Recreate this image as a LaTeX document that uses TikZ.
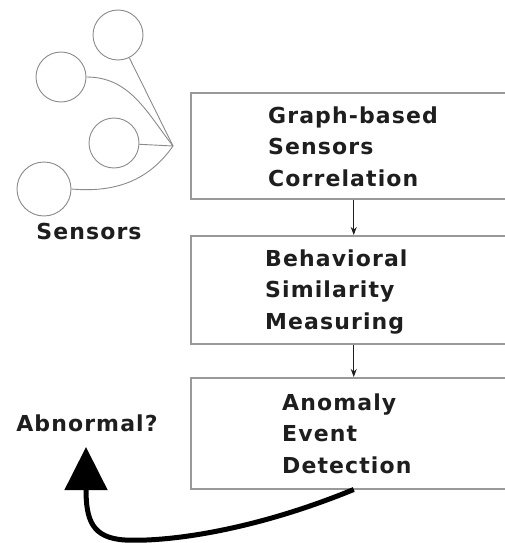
\documentclass[tikz,border=0pt]{standalone}
\usepackage{fontspec}
\setmainfont{Liberation Sans}
\newfontfamily\lblfont{DejaVu Sans}[LetterSpace=5]
\usetikzlibrary{arrows.meta}
\definecolor{boxgray}{HTML}{999999}
\definecolor{circgray}{HTML}{8A8A8A}
\definecolor{ink}{HTML}{1E1E1E}
\begin{document}
\begin{tikzpicture}[x=1pt,y=-1pt,
  sensor/.style={circle, draw=circgray, line width=0.9pt, minimum size=50pt, inner sep=0pt},
  link/.style={draw=circgray, line width=0.9pt},
  stepbox/.style={draw=boxgray, line width=1.5pt, minimum width=326pt, anchor=north west, inner sep=0pt},
  lbl/.style={font=\lblfont\bfseries\fontsize{22}{31.5}\selectfont, text=ink, align=left, inner sep=0pt},
  thin arrow/.style={draw=ink, line width=1pt, -{Stealth[length=8pt,width=6pt]}},
  big arrow/.style={draw=black, line width=5pt, -{Triangle[width=42pt,length=43pt]}}
]
\useasboundingbox (0,0) rectangle (504,543);
% sensors
\node[sensor] (s1) at (118,35) {};
\node[sensor] (s2) at (61,77) {};
\node[sensor] (s3) at (114,143) {};
\node[sensor, minimum size=54pt] (s4) at (44,189) {};
\coordinate (hub) at (173,146);
\draw[link] (s1) -- (hub);
\draw[link] (s2.east) to[out=0, in=128] (hub);
\draw[link] (s3) -- (hub);
\draw[link] (s4.east) to[out=-5, in=235] (hub);
\node[lbl, anchor=base] (sens) at (89,239) {Sensors};
% boxes
\node[stepbox, minimum height=106pt] (b1) at (190,92) {};
\node[stepbox, minimum height=108pt] (b2) at (190,235) {};
\node[stepbox, minimum height=111pt] (b3) at (190,377) {};
\node[lbl, anchor=base west] (t1) at (268,186) {Graph-based\\Sensors\\Correlation};
\node[lbl, anchor=base west] (t2) at (265,329) {Behavioral\\Similarity\\Measuring};
\node[lbl, anchor=base west] (t3) at (282,473) {Anomaly\\Event\\Detection};
\draw[thin arrow] (b1.south) -- (b2.north);
\draw[thin arrow] (b2.south) -- (b3.north);
% abnormal
\node[lbl, anchor=base] (abn) at (87,431) {Abnormal?};
\coordinate (tip) at (86,447);
\draw[big arrow] (b3.south) .. controls (250,532) and (165,542) .. (125,540) .. controls (92,538) and (86,520) .. (tip);
\end{tikzpicture}
\end{document}
